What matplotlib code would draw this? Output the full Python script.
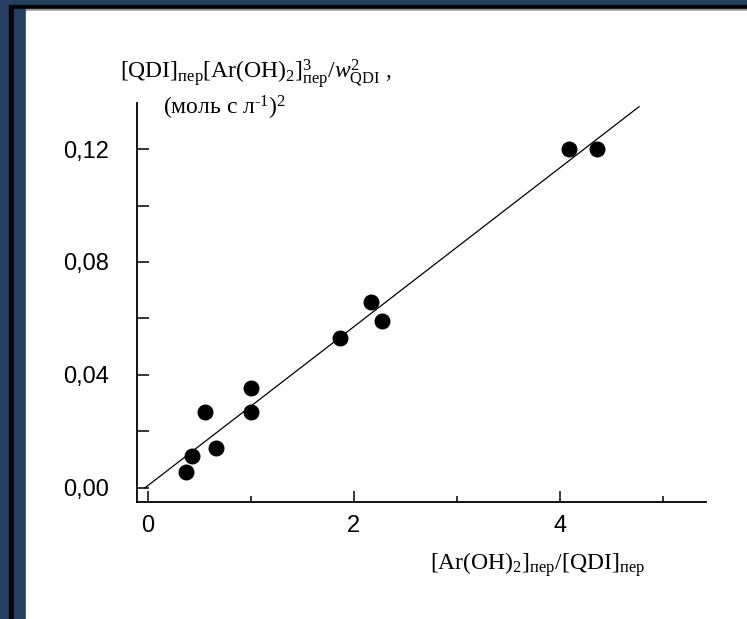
import matplotlib
matplotlib.use("Agg")
import matplotlib.pyplot as plt
from matplotlib.patches import Rectangle
from matplotlib.ticker import MultipleLocator, FuncFormatter

plt.rcParams["mathtext.fontset"] = "custom"
plt.rcParams["mathtext.rm"] = "Liberation Serif"
plt.rcParams["mathtext.it"] = "Liberation Serif:italic"
plt.rcParams["mathtext.bf"] = "Liberation Serif:bold"

# data
ratio = [0.37, 0.43, 0.55, 0.66, 1.00, 1.00, 1.86, 2.17, 2.27, 4.09, 4.36]
prod = [0.0057, 0.0113, 0.027, 0.014, 0.0354, 0.027, 0.053, 0.0658, 0.059, 0.120, 0.120]
fit_x = [-0.03, 4.77]
fit_y = [0.0, 0.135]
x_ticks = [0, 2, 4]
y_ticks = [0.00, 0.04, 0.08, 0.12]

W, H = 747, 619
fig = plt.figure(figsize=(W / 100, H / 100), dpi=100, facecolor="#253f62")

def px_rect(x0, y0, x1, y1, color):
    # rectangle in image pixels (top-left origin)
    fig.patches.append(Rectangle((x0 / W, 1 - y1 / H), (x1 - x0) / W, (y1 - y0) / H,
                                 transform=fig.transFigure, color=color, zorder=-10))

px_rect(9, 5, W, H, "black")
px_rect(14, 9, 26, H, "#253f62")
px_rect(26, 9, W, 10.5, "#9a9a9a")
px_rect(26, 10.5, W, H, "white")

ax = fig.add_axes([137 / W, 1 - 502 / H, (706 - 137) / W, (502 - 103) / H])
ax.set_facecolor("none")

ax.plot(fit_x, fit_y, color="black", lw=0.9)
ax.plot(ratio, prod, "o", color="black", ms=10.5, mec="black")

ax.set_xlim(-0.107, 5.42)
ax.set_ylim(-0.005, 0.1363)

for s in ["top", "right"]:
    ax.spines[s].set_visible(False)
for s in ["left", "bottom"]:
    ax.spines[s].set_linewidth(1.3)

ax.set_xticks(x_ticks)
ax.xaxis.set_minor_locator(MultipleLocator(1))
ax.set_yticks(y_ticks)
ax.yaxis.set_minor_locator(MultipleLocator(0.02))
ax.yaxis.set_major_formatter(FuncFormatter(lambda v, p: f"{v:.2f}".replace(".", ",")))
ax.xaxis.set_major_formatter(FuncFormatter(lambda v, p: f"{v:.0f}"))

ax.tick_params(axis="x", which="major", direction="in", length=8, width=1.1,
               labelsize=17, pad=9)
ax.tick_params(axis="x", which="minor", direction="in", length=4.5, width=1.1)
ax.tick_params(axis="y", which="both", direction="in", length=8.5, width=1.1,
               labelsize=17, pad=20)
for lab in ax.get_xticklabels() + ax.get_yticklabels():
    lab.set_family("Liberation Sans")

serif = "Liberation Serif"
fig.text(120 / W, 1 - 74 / H,
         r"[QDI]$_{\mathrm{пер}}$[Ar(OH)$_2$]$^3_{\mathrm{пер}}$/$w^2_{\mathrm{QDI}}$ ,",
         family=serif, fontsize=17, ha="left", va="center")
fig.text(163 / W, 1 - 108 / H, "(моль с л$^{\u2010\\mathrm{1}}$)$^2$",
         family=serif, fontsize=17, ha="left", va="center")
fig.text(430 / W, 1 - 565 / H, r"[Ar(OH)$_2$]$_{\mathrm{пер}}$/[QDI]$_{\mathrm{пер}}$",
         family=serif, fontsize=17, ha="left", va="center")

fig.savefig("out.png", dpi=100, facecolor=fig.get_facecolor())
